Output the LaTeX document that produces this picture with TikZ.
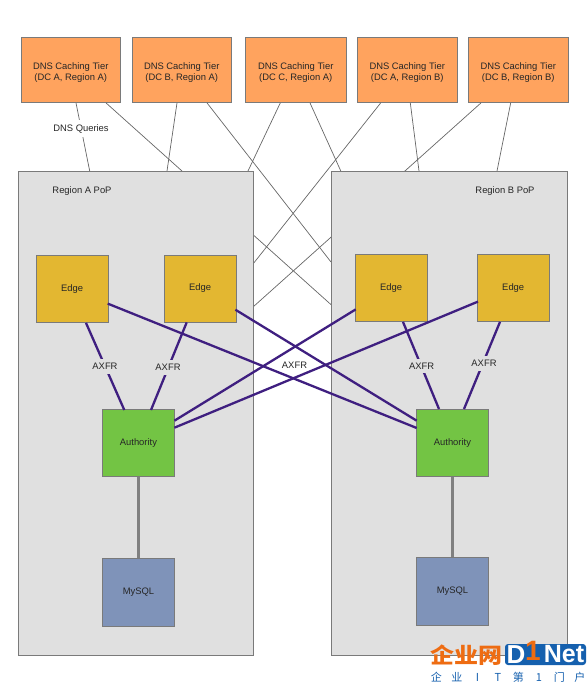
\documentclass[tikz,border=0pt]{standalone}
\usepackage{fontspec}
\usetikzlibrary{calc}
\setmainfont{Liberation Sans}
\newfontfamily\cjkfont{Noto Sans CJK SC}
\definecolor{cOrange}{HTML}{FFA35E}
\definecolor{cEdge}{HTML}{E3B731}
\definecolor{cAuth}{HTML}{73C444}
\definecolor{cSql}{HTML}{7F93B9}
\definecolor{cRegion}{HTML}{E0E0E0}
\definecolor{cBorder}{HTML}{7A7A7A}
\definecolor{cPurple}{HTML}{3F1F80}
\definecolor{cLogoO}{HTML}{EE6C12}
\definecolor{cLogoB}{HTML}{1560AE}
\newcommand{\upstrut}{\rule{0pt}{12pt}}
\newcommand{\logochar}[1]{\makebox[20.5pt]{#1}}
\tikzset{
  boxbase/.style={draw=cBorder,line width=0.9pt,anchor=north west,inner sep=0pt,align=center,font=\fontsize{9.4}{11}\selectfont,text=black!85},
  cachebox/.style={boxbase,fill=cOrange,minimum height=65pt},
  edgebox/.style={boxbase,fill=cEdge,minimum width=71.5pt,minimum height=67pt},
  authbox/.style={boxbase,fill=cAuth,minimum width=72pt,minimum height=67pt},
  sqlbox/.style={boxbase,fill=cSql,minimum width=72pt,minimum height=68pt},
  regionbox/.style={draw=cBorder,line width=0.9pt,fill=cRegion,anchor=north west,inner sep=0pt,minimum height=484pt},
  plainlabel/.style={font=\fontsize{9.4}{11}\selectfont,text=black!85,inner sep=1.5pt},
  querywire/.style={draw=black!60,line width=0.7pt},
  axfrwire/.style={draw=cPurple,line width=2.3pt},
  dbwire/.style={draw=gray,line width=2.8pt},
  lblgray/.style={plainlabel,fill=cRegion,inner ysep=4pt},
  lblwhite/.style={plainlabel,inner ysep=4pt}
}
\begin{document}
\begin{tikzpicture}[x=1pt,y=-1pt]
\useasboundingbox (0,0) rectangle (588,682);
% cache tier
\node[cachebox,minimum width=98.5pt]  (c1) at (21,37)  {\upstrut DNS Caching Tier\\(DC A, Region A)};
\node[cachebox,minimum width=98.5pt]  (c2) at (132,37) {\upstrut DNS Caching Tier\\(DC B, Region A)};
\node[cachebox,minimum width=100.5pt] (c3) at (245,37) {\upstrut DNS Caching Tier\\(DC C, Region A)};
\node[cachebox,minimum width=99.5pt] (c4) at (357,37) {\upstrut DNS Caching Tier\\(DC A, Region B)};
\node[cachebox,minimum width=99.5pt] (c5) at (468,37) {\upstrut DNS Caching Tier\\(DC B, Region B)};
% anchor points on the pop boundaries
\coordinate (raO) at (18,171);
\coordinate (rbO) at (331,171);
% query wires
\draw[querywire] ($(c1.south west)+(55,0)$) -- ($(raO)+(71.7,0)$);
\draw[querywire] ($(c1.south west)+(85,0)$) -- ($(rbO)+(0,133.6)$);
\draw[querywire] ($(c2.south west)+(45,0)$) -- ($(raO)+(149,0)$);
\draw[querywire] ($(c2.south west)+(75,0)$) -- ($(rbO)+(0,91)$);
\draw[querywire] ($(c3.south west)+(35.3,0)$) -- ($(raO)+(230,0)$);
\draw[querywire] ($(c3.south west)+(65,0)$) -- ($(rbO)+(9.8,0)$);
\draw[querywire] ($(c4.south west)+(23.7,0)$) -- ($(raO)+(235,93)$);
\draw[querywire] ($(c4.south west)+(53.3,0)$) -- ($(rbO)+(88,0)$);
\draw[querywire] ($(c5.south west)+(13,0)$) -- ($(raO)+(235,136)$);
\draw[querywire] ($(c5.south west)+(42.7,0)$) -- ($(rbO)+(166,0)$);
\node[plainlabel,fill=white,inner ysep=4pt] (dq) at (81,128.5) {DNS Queries};
% regions
\node[regionbox,minimum width=235pt] (ra) at (raO) {};
\node[regionbox,minimum width=235.5pt] (rb) at (rbO) {};
\node[plainlabel] (rat) at (82,191.5) {Region A PoP};
\node[plainlabel] (rbt) at (505,191.5) {Region B PoP};
% boxes
\node[edgebox] (e1) at (36,255)  {Edge};
\node[edgebox] (e2) at (164,254.5) {Edge};
\node[edgebox] (e3) at (355,254) {Edge};
\node[edgebox] (e4) at (477,254) {Edge};
\node[authbox] (a1) at (102,409) {Authority};
\node[authbox] (a2) at (416,409) {Authority};
\node[sqlbox] (m1) at (102,558) {MySQL};
\node[sqlbox] (m2) at (416,557) {MySQL};
% db wires
\draw[dbwire] (a1) -- (m1);
\draw[dbwire] (a2) -- (m2);
% axfr long wires
\draw[axfrwire] ($(e1.south east)+(-0.7,-19.3)$) -- ($(a2.north west)+(0.7,19)$);
\draw[axfrwire] ($(e2.south east)+(-1,-12.7)$) -- ($(a2.north west)+(0.7,11.7)$);
\draw[axfrwire] ($(e3.south west)+(0.7,-12.5)$) -- ($(a1.north east)+(-0.5,11.7)$);
\draw[axfrwire] ($(e4.south west)+(1,-20.3)$) -- ($(a1.north east)+(-0.5,18.7)$);
% axfr short wires
\draw[axfrwire] ($(e1.south west)+(50,0)$) -- ($(a1.north west)+(22.3,1)$);
\draw[axfrwire] ($(e2.south west)+(22.7,0)$) -- ($(a1.north west)+(49,1)$);
\draw[axfrwire] ($(e3.south west)+(48,0)$) -- ($(a2.north west)+(23,0)$);
\draw[axfrwire] ($(e4.south west)+(23,0)$) -- ($(a2.north west)+(48,0)$);
\node[lblgray] (x1) at (105,366.7) {AXFR};
\node[lblgray] (x2) at (168,367.5) {AXFR};
\node[lblgray] (x3) at (421.7,366) {AXFR};
\node[lblgray] (x4) at (484,363.5) {AXFR};
\node[lblwhite] (x5) at (294.5,365) {AXFR};
% watermark
\node[font=\cjkfont\bfseries\fontsize{24}{24}\selectfont,text=cLogoO,inner sep=0pt,yscale=0.9] (w1) at (466,655) {企业网};
\fill[cLogoB,rounded corners=3pt] (505,644) rectangle (586,665);
\node[font=\bfseries\fontsize{26}{26}\selectfont,text=white,inner sep=0pt] (w2) at (516,654.5) {D};
\node[font=\bfseries\fontsize{28}{28}\selectfont,text=cLogoO,inner sep=0pt] (w4) at (533,650.5) {1};
\node[font=\bfseries\fontsize{25}{25}\selectfont,text=white,inner sep=0pt] (w5) at (564,654.5) {Net};
\node[font=\cjkfont\fontsize{11}{12}\selectfont,text=cLogoB,inner sep=0pt,anchor=west] (w3) at (426,677) {\logochar{企}\logochar{业}\logochar{I}\logochar{T}\logochar{第}\logochar{1}\logochar{门}\logochar{户}};
\end{tikzpicture}
\end{document}
